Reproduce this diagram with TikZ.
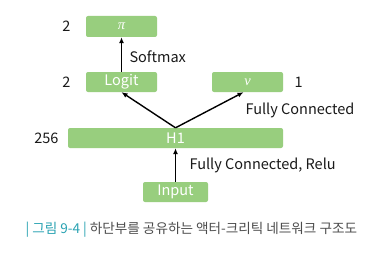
\documentclass[tikz,border=0pt]{standalone}
\usepackage{fontspec}
\setmainfont{Noto Sans CJK KR}
\newfontfamily\symfont{Liberation Serif}
\usetikzlibrary{arrows.meta}
\definecolor{textcolor}{HTML}{1A1A1A}
\definecolor{muted}{HTML}{4D4D4D}
\definecolor{softgreen}{HTML}{98CE7E}
\definecolor{tealcap}{HTML}{2AA3B3}
\tikzset{
  box/.style={
    rounded corners=2pt,
    align=center,
    fill=softgreen,
    inner sep=0pt,
    text=white,
    font=\fontsize{14.5}{16}\selectfont
  },
  edge/.style={-{Latex[length=6pt,width=5pt]}, draw=black, line width=1.4pt},
  note/.style={font=\fontsize{14.5}{16}\selectfont, text=textcolor}
}

\begin{document}
\begin{tikzpicture}[x=1pt,y=-1pt]
  \useasboundingbox[fill=white] (0,0) rectangle (379,254);

  % Network layers.
  \node[box, minimum width=71pt, minimum height=21pt] (pi) at (121.5,26.5) {\symfont\itshape π};
  \node[box, minimum width=71pt, minimum height=20pt] (logit) at (121.5,82) {Logit};
  \node[box, minimum width=71pt, minimum height=20pt] (value) at (247.5,82) {\symfont\itshape v};
  \node[box, minimum width=215pt, minimum height=20pt] (hidden) at (175.5,138) {H1};
  \node[box, minimum width=65pt, minimum height=20pt] (input) at (175.5,192) {Input};

  % Arrows.
  \draw[edge] (logit.north) -- (pi.south);
  \draw[edge] (hidden.north) -- (logit.south);
  \draw[edge] (hidden.north) -- ([xshift=-4pt]value.south);
  \draw[edge] (input.north) -- (hidden.south);

  % Sizes.
  \node[note, anchor=east] (pisize) at (74,26.5) {2};
  \node[note, anchor=east] (logitsize) at (74,82) {2};
  \node[note, anchor=west] (valuesize) at (291,82) {1};
  \node[note, anchor=east] (hiddensize) at (62,138) {256};

  % Labels.
  \node[note, anchor=west] (softmax) at (126,57) {Softmax};
  \node[note, anchor=west] (fcvalue) at (242,110) {Fully Connected};
  \node[note, anchor=west] (fcrelu) at (186,165) {Fully Connected, Relu};

  % Caption.
  \node[anchor=west, font=\fontsize{13.6}{15}\selectfont, text=muted] (caption) at (22,230)
    {\textcolor{tealcap}{| 그림 9-4 |} 하단부를 공유하는 액터-크리틱 네트워크 구조도};
\end{tikzpicture}
\end{document}
